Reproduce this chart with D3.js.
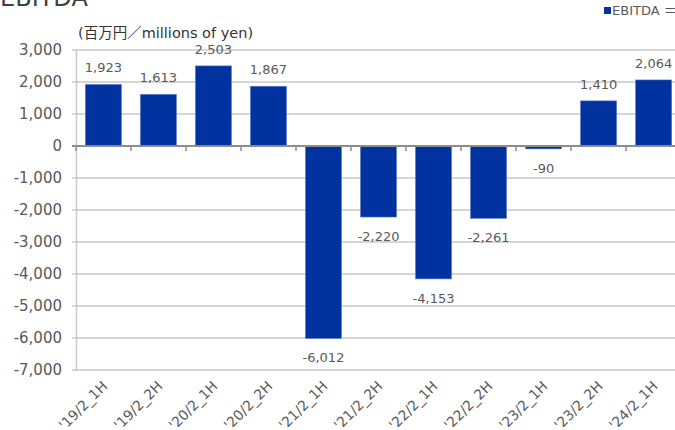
<!DOCTYPE html>
<html><head><meta charset="utf-8">
<script src="https://cdn.jsdelivr.net/npm/d3@7"></script>
<style>body{margin:0;background:#fff}svg{display:block}text{font-family:"DejaVu Sans","Noto Sans CJK JP",sans-serif}</style>
</head><body>
<svg id="c" width="675" height="430"></svg>
<script>
const categories = ["'19/2_1H","'19/2_2H","'20/2_1H","'20/2_2H","'21/2_1H","'21/2_2H","'22/2_1H","'22/2_2H","'23/2_1H","'23/2_2H","'24/2_1H"];
const ebitda = [1923,1613,2503,1867,-6012,-2220,-4153,-2261,-90,1410,2064];
const yTicks = [3000,2000,1000,0,-1000,-2000,-3000,-4000,-5000,-6000,-7000];

(function(){
const svg = d3.select("#c");
const pL = 76, pR = 681, pT = 50, pB = 370;
const x = d3.scaleBand().domain(categories).range([pL, pR]).paddingInner(0.345).paddingOuter(0.17);
const y = d3.scaleLinear().domain([-7000, 3000]).range([pB, pT]);
const f0 = d3.format(",");
const fmt = d => f0(d).replace("\u2212", "-");
const gray = "#595959";

svg.append("text").attr("x", 0).attr("y", 6).attr("font-size", 24).attr("fill", "#404040").text("EBITDA");
svg.append("text").attr("x", 78).attr("y", 38).attr("font-size", 14.5).attr("fill", "#333").text("(百万円／millions of yen)");

svg.append("rect").attr("x", 604).attr("y", 7).attr("width", 7).attr("height", 7).attr("fill", "#0033a0");
svg.append("text").attr("x", 612).attr("y", 15).attr("font-size", 13).attr("fill", gray).text("EBITDA ＝");

svg.append("g").selectAll("line").data(yTicks.filter(d => d !== 0)).join("line")
  .attr("x1", pL - 4).attr("x2", 675).attr("y1", d => y(d)).attr("y2", d => y(d))
  .attr("stroke", "#c8c8c8").attr("stroke-width", 1.5);

const ya = svg.append("g").attr("transform", `translate(${pL},0)`)
  .call(d3.axisLeft(y).tickValues(yTicks).tickFormat(fmt).tickSize(0).tickPadding(14));
ya.select(".domain").attr("stroke", "#c8c8c8").attr("stroke-width", 1.5);
ya.selectAll("text").attr("font-size", 15).attr("fill", gray).attr("font-family", "'DejaVu Sans',sans-serif");

svg.append("g").selectAll("rect").data(ebitda).join("rect")
  .attr("x", (d, i) => x(categories[i]))
  .attr("width", x.bandwidth())
  .attr("y", d => y(Math.max(0, d)))
  .attr("height", d => Math.abs(y(d) - y(0)))
  .attr("fill", "#0033a0").attr("stroke", "#5a78c8").attr("stroke-width", 0.6);

const xa = svg.append("g").attr("transform", `translate(0,${y(0)})`);
xa.append("line").attr("x1", pL - 4).attr("x2", 675).attr("stroke", "#8c8c8c").attr("stroke-width", 2);
xa.selectAll("line.t").data(d3.range(categories.length + 1)).join("line").attr("class", "t")
  .attr("x1", i => pL + i * (pR - pL) / categories.length)
  .attr("x2", i => pL + i * (pR - pL) / categories.length)
  .attr("y1", 0).attr("y2", 5).attr("stroke", "#8c8c8c").attr("stroke-width", 1.5);

svg.append("g").selectAll("text").data(ebitda).join("text")
  .attr("x", (d, i) => x(categories[i]) + x.bandwidth() / 2)
  .attr("y", d => d >= 0 ? y(d) - 12 : y(d) + 24)
  .attr("text-anchor", "middle").attr("font-size", 13).attr("fill", gray)
  .text(d => fmt(d));

const xb = svg.append("g").attr("transform", `translate(0,${pB})`)
  .call(d3.axisBottom(x).tickSize(0).tickPadding(0));
xb.select(".domain").remove();
xb.selectAll("text").attr("font-size", 14).attr("fill", gray)
  .attr("font-family", "'DejaVu Sans',sans-serif")
  .attr("text-anchor", "end").attr("dy", 0)
  .attr("transform", "translate(5,17) rotate(-45)");
})();
</script>
</body></html>
